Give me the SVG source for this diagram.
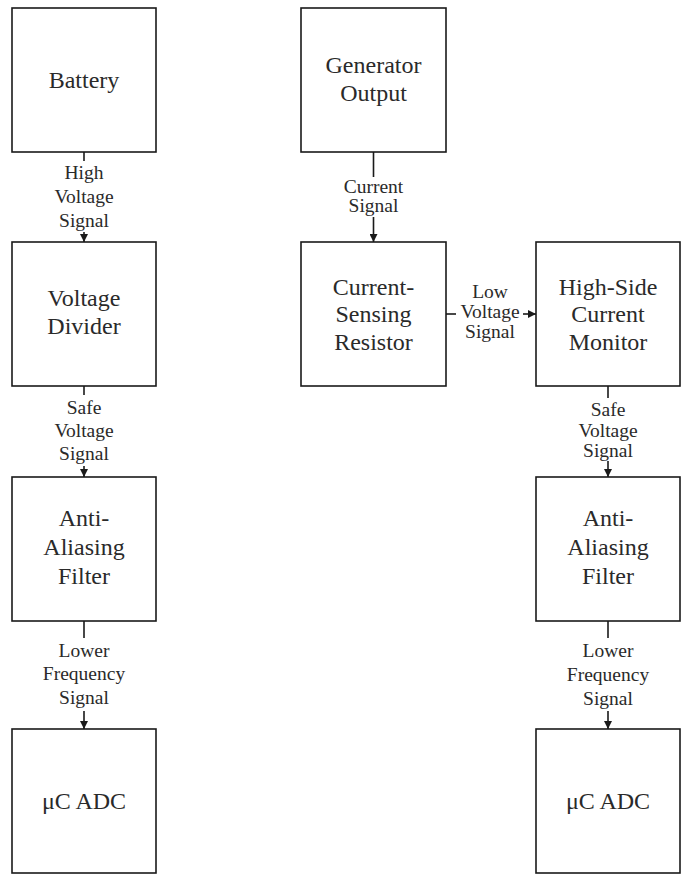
<svg xmlns="http://www.w3.org/2000/svg" width="681" height="882" viewBox="0 0 681 882">
<style>
.box{fill:#fff;stroke:#1a1a1a;stroke-width:1.6}
.bt{font-family:"Liberation Serif","Times New Roman",serif;font-size:24px;fill:#2a2a2a;text-anchor:middle}
.lt{font-family:"Liberation Serif","Times New Roman",serif;font-size:19.5px;fill:#2a2a2a;text-anchor:middle}
.ln{stroke:#1a1a1a;stroke-width:1.6;fill:none}
</style>
<defs>
<marker id="ah" viewBox="0 0 10 10" refX="10" refY="5" markerWidth="9" markerHeight="8" markerUnits="userSpaceOnUse" orient="auto">
<path d="M0,0 L10,5 L0,10 z" fill="#1a1a1a"/>
</marker>
</defs>
<rect width="681" height="882" fill="#fff"/>
<g id="connectors">
<path class="ln" d="M84,152 V161"/>
<path class="ln" d="M84,232 V242" marker-end="url(#ah)"/>
<path class="ln" d="M84,386 V395"/>
<path class="ln" d="M84,466 V477" marker-end="url(#ah)"/>
<path class="ln" d="M84,621 V638"/>
<path class="ln" d="M84,711 V729" marker-end="url(#ah)"/>
<path class="ln" d="M373.5,152 V177"/>
<path class="ln" d="M373.5,217 V242" marker-end="url(#ah)"/>
<path class="ln" d="M446,314 H456"/>
<path class="ln" d="M523,314 H536" marker-end="url(#ah)"/>
<path class="ln" d="M608,386 V398"/>
<path class="ln" d="M608,461 V477" marker-end="url(#ah)"/>
<path class="ln" d="M608,621 V638"/>
<path class="ln" d="M608,711 V729" marker-end="url(#ah)"/>
<text class="lt" font-family="Liberation Serif, serif"><tspan x="84" y="179">High</tspan><tspan x="84" y="203">Voltage</tspan><tspan x="84" y="226.5">Signal</tspan></text>
<text class="lt" font-family="Liberation Serif, serif"><tspan x="84" y="413.5">Safe</tspan><tspan x="84" y="437">Voltage</tspan><tspan x="84" y="460">Signal</tspan></text>
<text class="lt" font-family="Liberation Serif, serif"><tspan x="84" y="656.5">Lower</tspan><tspan x="84" y="680">Frequency</tspan><tspan x="84" y="704">Signal</tspan></text>
<text class="lt" font-family="Liberation Serif, serif"><tspan x="373.5" y="193">Current</tspan><tspan x="373.5" y="212">Signal</tspan></text>
<text class="lt" font-family="Liberation Serif, serif"><tspan x="490" y="298">Low</tspan><tspan x="490" y="318">Voltage</tspan><tspan x="490" y="338">Signal</tspan></text>
<text class="lt" font-family="Liberation Serif, serif"><tspan x="608" y="416">Safe</tspan><tspan x="608" y="436.5">Voltage</tspan><tspan x="608" y="456.5">Signal</tspan></text>
<text class="lt" font-family="Liberation Serif, serif"><tspan x="608" y="657">Lower</tspan><tspan x="608" y="681">Frequency</tspan><tspan x="608" y="705">Signal</tspan></text>
</g>
<g id="battery"><rect class="box" x="12" y="8" width="144" height="144"/><text class="bt" x="84" y="87.5">Battery</text></g>
<g id="voltage-divider"><rect class="box" x="12" y="242" width="144" height="144"/><text class="bt"><tspan x="84" y="306">Voltage</tspan><tspan x="84" y="334">Divider</tspan></text></g>
<g id="aaf-left"><rect class="box" x="12" y="477" width="144" height="144"/><text class="bt"><tspan x="84" y="526">Anti-</tspan><tspan x="84" y="555">Aliasing</tspan><tspan x="84" y="584">Filter</tspan></text></g>
<g id="adc-left"><rect class="box" x="12" y="729" width="144" height="144"/><text class="bt" x="84" y="808.5">μC ADC</text></g>
<g id="generator"><rect class="box" x="301" y="8" width="145" height="144"/><text class="bt"><tspan x="373.5" y="73">Generator</tspan><tspan x="373.5" y="100.5">Output</tspan></text></g>
<g id="current-sensing"><rect class="box" x="301" y="242" width="145" height="144"/><text class="bt"><tspan x="373.5" y="294.5">Current-</tspan><tspan x="373.5" y="322">Sensing</tspan><tspan x="373.5" y="349.5">Resistor</tspan></text></g>
<g id="high-side"><rect class="box" x="536" y="242" width="144" height="144"/><text class="bt"><tspan x="608" y="294.5">High-Side</tspan><tspan x="608" y="322">Current</tspan><tspan x="608" y="349.5">Monitor</tspan></text></g>
<g id="aaf-right"><rect class="box" x="536" y="477" width="144" height="144"/><text class="bt"><tspan x="608" y="526">Anti-</tspan><tspan x="608" y="555">Aliasing</tspan><tspan x="608" y="584">Filter</tspan></text></g>
<g id="adc-right"><rect class="box" x="536" y="729" width="144" height="144"/><text class="bt" x="608" y="808.5">μC ADC</text></g>
</svg>
